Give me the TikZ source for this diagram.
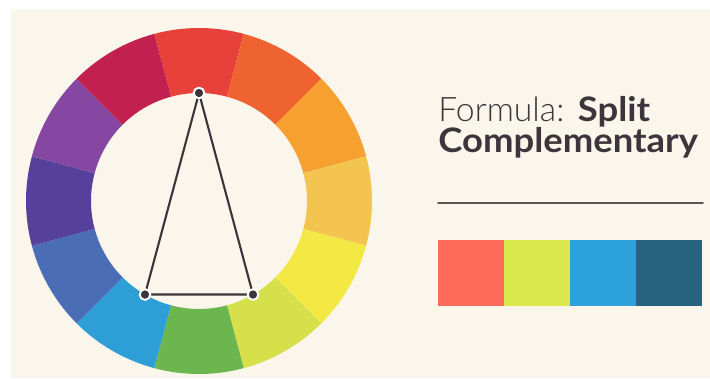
\documentclass[tikz,border=0pt]{standalone}
\usepackage{fontspec}
\setsansfont{Lato}
\newfontfamily\latolight{Lato Light}
\newfontfamily\latobold{Lato Bold}[FakeStretch=1.08]
\definecolor{paper}{HTML}{FAF6EB}
\definecolor{ink}{HTML}{3A363B}
\definecolor{rule}{HTML}{5A5657}
\definecolor{wred}{HTML}{E8403A}
\definecolor{wredorange}{HTML}{EF6330}
\definecolor{worange}{HTML}{F6A030}
\definecolor{wamber}{HTML}{F3C44F}
\definecolor{wyellow}{HTML}{F4E944}
\definecolor{wlime}{HTML}{D5E04B}
\definecolor{wgreen}{HTML}{6CB64F}
\definecolor{wblue}{HTML}{2E9ED6}
\definecolor{wcobalt}{HTML}{4B6DB6}
\definecolor{windigo}{HTML}{55409B}
\definecolor{wpurple}{HTML}{8547A1}
\definecolor{wmagenta}{HTML}{C22050}
\definecolor{scoral}{HTML}{FF6B5B}
\definecolor{slime}{HTML}{D9E84D}
\definecolor{ssky}{HTML}{2EA3DB}
\definecolor{steal}{HTML}{28647F}

\begin{document}
\begin{tikzpicture}[x=0.025cm,y=0.025cm,font=\sffamily,line cap=round,line join=round,
  dot/.style={circle,fill=ink,draw=white,line width=1.4pt,inner sep=0pt,minimum size=7.6pt}]
  \useasboundingbox (0,0) rectangle (710,378);
  \fill[paper] (11,0) rectangle (710,369);

  % colour wheel
  \begin{scope}[shift={(199,177)}]
    \foreach \a/\c in {90/wred,60/wredorange,30/worange,0/wamber,-30/wyellow,
      -60/wlime,-90/wgreen,-120/wblue,-150/wcobalt,180/windigo,150/wpurple,120/wmagenta}
      \fill[\c] (\a-15:108) -- (\a-15:173)
        arc[start angle=\a-15,end angle=\a+15,radius=173]
        -- (\a+15:108)
        arc[start angle=\a+15,end angle=\a-15,radius=108] -- cycle;
    \coordinate (pR) at (90:108);
    \coordinate (pB) at (-120:108);
    \coordinate (pY) at (-60:108);
    \draw[ink,line width=1.5pt] (pR)--(pB)--(pY)--cycle;
    \node[dot] (dR) at (pR) {};
    \node[dot] (dB) at (pB) {};
    \node[dot] (dY) at (pY) {};
  \end{scope}

  % title
  \node[ink,anchor=base west,inner sep=0pt,font=\fontsize{24}{28}\selectfont] (t1) at (438,257)
    {{\latolight Formula:} {\latobold Split}};
  \node[ink,anchor=base west,inner sep=0pt,font=\fontsize{24}{28}\latobold] (t2) at (438,226)
    {Complementary};
  \draw[rule,line width=1.1pt] (438,175) -- (703,175);

  % palette
  \foreach \c [count=\i from 0] in {scoral,slime,ssky,steal}
    \fill[\c] (438+66*\i,72) rectangle ++(66,66);
\end{tikzpicture}
\end{document}
